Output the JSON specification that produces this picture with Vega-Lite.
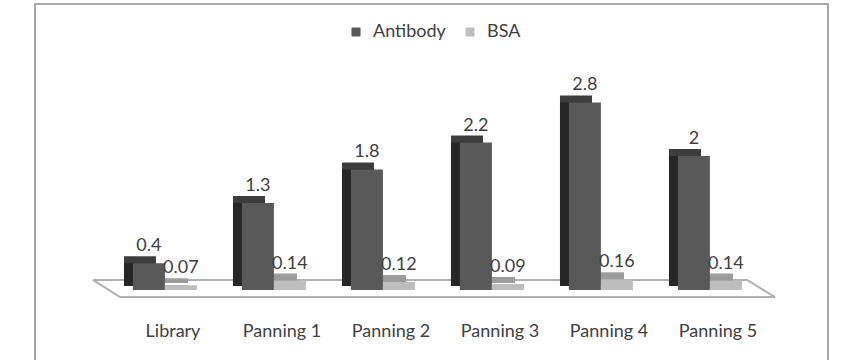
{
  "$schema": "https://vega.github.io/schema/vega-lite/v6.json",
  "width": 793,
  "height": 360,
  "autosize": {"type": "none"},
  "padding": {"left": 35, "top": 4, "right": 26, "bottom": 0},
  "background": "white",
  "config": {
    "view": {"stroke": "#a8a8a8", "strokeWidth": 2},
    "font": "Lato",
    "axisX": {"title": null, "domain": false, "ticks": false, "grid": false, "labelFontSize": 18, "labelColor": "#404040", "labelPadding": 0, "offset": -42, "labelAngle": 0, "labelFont": "Lato"}
  },
  "resolve": {"scale": {"xOffset": "independent"}},
  "data": {
    "values": [
      {"category": "Library", "series": "Antibody", "value": 0.4},
      {"category": "Library", "series": "BSA", "value": 0.07},
      {"category": "Panning 1", "series": "Antibody", "value": 1.3},
      {"category": "Panning 1", "series": "BSA", "value": 0.14},
      {"category": "Panning 2", "series": "Antibody", "value": 1.8},
      {"category": "Panning 2", "series": "BSA", "value": 0.12},
      {"category": "Panning 3", "series": "Antibody", "value": 2.2},
      {"category": "Panning 3", "series": "BSA", "value": 0.09},
      {"category": "Panning 4", "series": "Antibody", "value": 2.8},
      {"category": "Panning 4", "series": "BSA", "value": 0.16},
      {"category": "Panning 5", "series": "Antibody", "value": 2},
      {"category": "Panning 5", "series": "BSA", "value": 0.14}
    ]
  },
  "layer": [
    {
      "transform": [{"filter": "datum.series === 'Antibody'"}],
      "mark": {"type": "rule", "color": "#b0b0b0", "strokeWidth": 2, "xOffset": -25.5, "x2Offset": -25.5},
      "encoding": {
        "x": {"field": "category", "type": "nominal", "sort": null, "bandPosition": 0, "scale": {"paddingInner": 0, "paddingOuter": 0.6376, "align": 0.6007}},
        "x2": {"field": "category", "bandPosition": 1},
        "y": {"datum": 0.15, "type": "quantitative", "axis": null, "scale": {"domain": [-1.1045, 4.2687], "nice": false, "zero": false}}
      }
    },
    {
      "transform": [{"filter": "datum.series === 'Antibody'"}],
      "mark": {"type": "rule", "color": "#b0b0b0", "strokeWidth": 2, "xOffset": 1.5, "x2Offset": 2.5},
      "encoding": {
        "x": {"field": "category", "type": "nominal", "sort": null, "bandPosition": 0, "scale": {"paddingInner": 0, "paddingOuter": 0.6376, "align": 0.6007}},
        "x2": {"field": "category", "bandPosition": 1},
        "y": {"datum": -0.105, "type": "quantitative", "axis": null, "scale": {"domain": [-1.1045, 4.2687], "nice": false, "zero": false}}
      }
    },
    {
      "transform": [{"filter": "datum.series === 'Antibody' && datum.category === 'Library'"}],
      "mark": {"type": "rule", "color": "#b0b0b0", "strokeWidth": 2, "xOffset": -25.5, "x2Offset": 1.5},
      "encoding": {
        "x": {"field": "category", "type": "nominal", "sort": null, "bandPosition": 0, "scale": {"paddingInner": 0, "paddingOuter": 0.6376, "align": 0.6007}},
        "x2": {"field": "category", "bandPosition": 0},
        "y": {"datum": 0.15, "type": "quantitative", "axis": null, "scale": {"domain": [-1.1045, 4.2687], "nice": false, "zero": false}},
        "y2": {"datum": -0.105}
      }
    },
    {
      "transform": [{"filter": "datum.series === 'Antibody' && datum.category === 'Panning 5'"}],
      "mark": {"type": "rule", "color": "#b0b0b0", "strokeWidth": 2, "xOffset": -25.5, "x2Offset": 2.5},
      "encoding": {
        "x": {"field": "category", "type": "nominal", "sort": null, "bandPosition": 1, "scale": {"paddingInner": 0, "paddingOuter": 0.6376, "align": 0.6007}},
        "x2": {"field": "category", "bandPosition": 1},
        "y": {"datum": 0.15, "type": "quantitative", "axis": null, "scale": {"domain": [-1.1045, 4.2687], "nice": false, "zero": false}},
        "y2": {"datum": -0.105}
      }
    },
    {
      "mark": {"type": "bar", "yOffset": -7, "y2Offset": -7},
      "encoding": {
        "x": {"field": "category", "type": "nominal", "sort": null, "scale": {"paddingInner": 0, "paddingOuter": 0.6376, "align": 0.6007}},
        "xOffset": {"field": "series", "type": "nominal", "sort": ["Antibody", "BSA"], "scale": {"type": "band", "paddingInner": 0, "paddingOuter": 0.703, "align": 0.122}},
        "y": {"field": "value", "type": "quantitative", "axis": null, "scale": {"domain": [-1.1045, 4.2687], "nice": false, "zero": false}},
        "y2": {"datum": 0},
        "color": {"condition": {"test": "datum.series === 'Antibody'", "value": "#3d3d3d"}, "value": "#9c9c9c"}
      }
    },
    {
      "mark": {"type": "bar", "yOffset": 0, "y2Offset": -4},
      "encoding": {
        "x": {"field": "category", "type": "nominal", "sort": null, "scale": {"paddingInner": 0, "paddingOuter": 0.6376, "align": 0.6007}},
        "xOffset": {"field": "series", "type": "nominal", "sort": ["Antibody", "BSA"], "scale": {"type": "band", "paddingInner": 0, "paddingOuter": 0.703, "align": 0.122}},
        "y": {"field": "value", "type": "quantitative", "axis": null, "scale": {"domain": [-1.1045, 4.2687], "nice": false, "zero": false}},
        "y2": {"datum": 0},
        "color": {"condition": {"test": "datum.series === 'Antibody'", "value": "#262626"}, "value": "#8a8a8a"}
      }
    },
    {
      "mark": {"type": "bar"},
      "encoding": {
        "x": {"field": "category", "type": "nominal", "sort": null, "scale": {"paddingInner": 0, "paddingOuter": 0.6376, "align": 0.6007}},
        "xOffset": {"field": "series", "type": "nominal", "sort": ["Antibody", "BSA"], "scale": {"type": "band", "paddingInner": 0, "paddingOuter": 0.703, "align": 0.32}},
        "y": {"field": "value", "type": "quantitative", "axis": null, "scale": {"domain": [-1.1045, 4.2687], "nice": false, "zero": false}},
        "y2": {"datum": 0},
        "color": {
          "field": "series", "type": "nominal",
          "scale": {"domain": ["Antibody", "BSA"], "range": ["#595959", "#bdbdbd"]},
          "legend": {"orient": "none", "direction": "horizontal", "legendX": 312, "legendY": 19, "title": null, "symbolType": "square", "symbolSize": 81, "symbolStrokeWidth": 0, "labelFontSize": 18, "labelColor": "#404040", "labelFont": "Lato", "columnPadding": 15, "labelOffset": 8}
        }
      }
    },
    {
      "mark": {"type": "text", "dy": -12, "baseline": "alphabetic", "fontSize": 18, "color": "#404040", "font": "Lato"},
      "encoding": {
        "x": {"field": "category", "type": "nominal", "sort": null, "scale": {"paddingInner": 0, "paddingOuter": 0.6376, "align": 0.6007}},
        "xOffset": {"field": "series", "type": "nominal", "sort": ["Antibody", "BSA"], "scale": {"type": "band", "paddingInner": 0, "paddingOuter": 0.703, "align": 0.32}},
        "y": {"field": "value", "type": "quantitative", "axis": null, "scale": {"domain": [-1.1045, 4.2687], "nice": false, "zero": false}},
        "text": {"field": "value", "type": "quantitative"}
      }
    }
  ]
}
